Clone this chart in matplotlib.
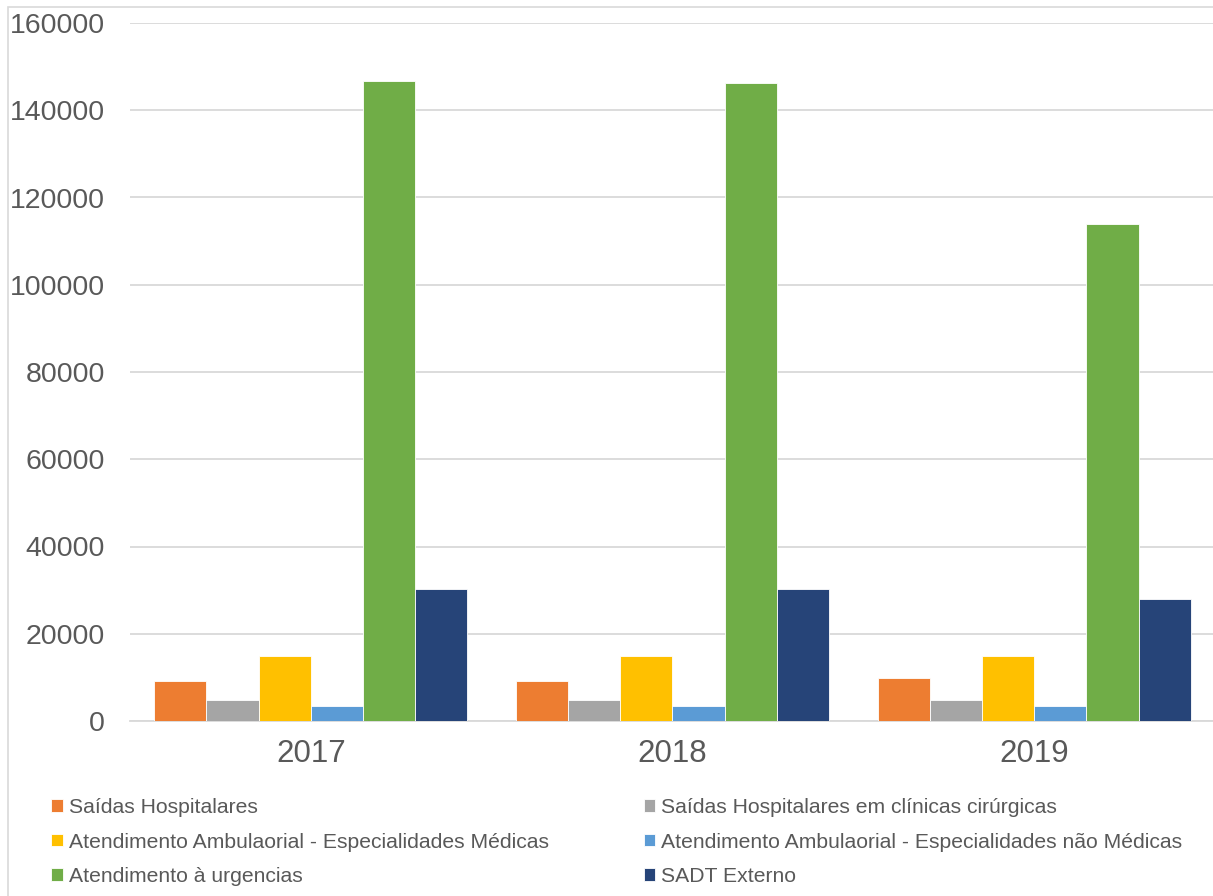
import matplotlib.pyplot as plt
import numpy as np

plt.rcParams['font.family'] = ['Liberation Sans', 'DejaVu Sans']

# dados
anos = ['2017', '2018', '2019']
series = [
    'Saídas Hospitalares',
    'Saídas Hospitalares em clínicas cirúrgicas',
    'Atendimento Ambulaorial - Especialidades Médicas',
    'Atendimento Ambulaorial - Especialidades não Médicas',
    'Atendimento à urgencias',
    'SADT Externo',
]
saidas = [9250, 9250, 9850]
saidas_cir = [4900, 4900, 4900]
amb_medicas = [14950, 14950, 14950]
amb_nao_medicas = [3400, 3400, 3400]
urgencias = [146700, 146300, 114000]
sadt = [30300, 30200, 28050]
valores = [saidas, saidas_cir, amb_medicas, amb_nao_medicas, urgencias, sadt]
cores = ['#ED7D31', '#A5A5A5', '#FFC000', '#5B9BD5', '#70AD47', '#264478']

fig = plt.figure(figsize=(12.13, 8.96), dpi=100)
ax = fig.add_axes([130 / 1213, 1 - 721 / 896, 1085 / 1213, 698 / 896])

x = np.arange(len(anos))
largura = 0.1443
handles = []
for i, (nome, v, c) in enumerate(zip(series, valores, cores)):
    b = ax.bar(x + (i - 2.5) * largura, v, largura, color=c, label=nome,
               edgecolor='white', linewidth=0.6, zorder=3)
    handles.append(b)

ax.set_xlim(-0.5, 2.5)
ax.set_ylim(0, 160000)
ax.set_yticks(range(0, 160001, 20000))
ax.set_yticklabels([str(t) for t in range(0, 160001, 20000)])
ax.set_xticks(x)
ax.set_xticklabels(anos)
ax.grid(axis='y', color='#D9D9D9', linewidth=1.3, zorder=0)
for s in ['top', 'right', 'left']:
    ax.spines[s].set_visible(False)
ax.spines['bottom'].set_color('#D9D9D9')
ax.spines['bottom'].set_linewidth(1.3)
ax.tick_params(axis='y', length=0, labelsize=20.5, labelcolor='#595959', pad=18)
ax.tick_params(axis='x', length=0, labelsize=22.5, labelcolor='#595959', pad=13)

ordem = [0, 2, 4, 1, 3, 5]
fig.legend([handles[i] for i in ordem], [series[i] for i in ordem],
           ncol=2, loc='upper left', bbox_to_anchor=(34 / 1213, 1 - 781 / 896),
           frameon=False, fontsize=15.2, labelcolor='#595959',
           handlelength=0.55, handleheight=0.55, handletextpad=0.29,
           columnspacing=4.5, labelspacing=0.74, borderpad=0.3)

# borda da área do gráfico
fig.patches.append(plt.Rectangle((8 / 1213, -0.1), 1.2, 1 - 7 / 896 + 0.1,
                                 transform=fig.transFigure, fill=False,
                                 edgecolor='#D9D9D9', linewidth=1.2))

fig.savefig('out.png', dpi=100)
